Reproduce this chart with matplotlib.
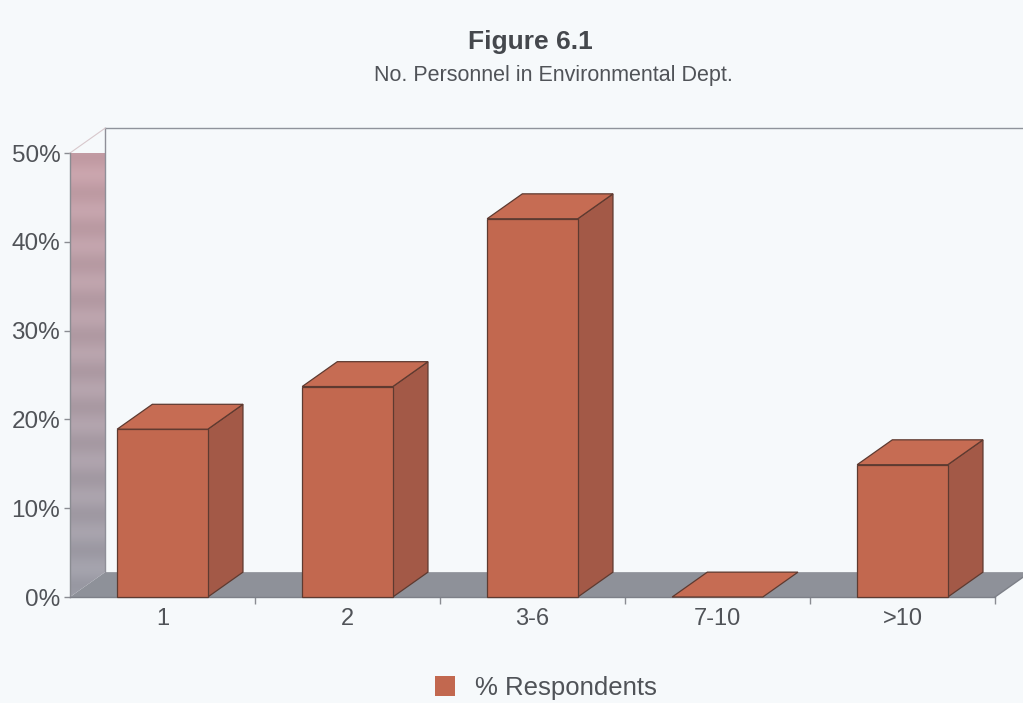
import numpy as np
import matplotlib
matplotlib.use("Agg")
import matplotlib.pyplot as plt
from matplotlib.patches import Polygon, Patch
from matplotlib.colors import to_rgb

# Survey data: number of personnel in the environmental department
categories = ["1", "2", "3-6", "7-10", ">10"]
respondents_pct = [18.9, 23.7, 42.6, 0.0, 14.9]
y_ticks = [0, 10, 20, 30, 40, 50]
y_tick_labels = ["0%", "10%", "20%", "30%", "40%", "50%"]
series_name = "% Respondents"

title = "Figure 6.1"
subtitle = "No. Personnel in Environmental Dept."

# Styling
bg = "#f6f9fb"
text_col = "#505358"
floor_col = "#8e9199"
bar_front = "#c2684f"
bar_side = "#a35947"
bar_top = "#c66c53"
bar_edge = "#5e3a30"
axis_col = "#8a8c92"
font = "Liberation Sans"

W, H = 1023, 703
fig = plt.figure(figsize=(W / 100, H / 100), dpi=100, facecolor=bg)
ax = fig.add_axes([70 / W, (H - 597) / H, 925 / W, 444 / H])
ax.set_facecolor("none")

n = len(categories)
x0, x1 = -0.5, n - 0.5
ymax = 50
dx, dy = 0.19, 2.8      # perspective depth offset (data units)
bw = 0.49               # bar width

# Floor
floor = Polygon([(x0, 0), (x1, 0), (x1 + dx, dy), (x0 + dx, dy)],
                closed=True, facecolor=floor_col, edgecolor="none",
                clip_on=False, zorder=1)
ax.add_patch(floor)

# Left wall with a pink-to-grey banded gradient
nrows = 120
top_c = np.array(to_rgb("#c9a0a8"))
bot_c = np.array(to_rgb("#9d9ea8"))
t = np.linspace(0, 1, nrows)[:, None]
grad = top_c * (1 - t) + bot_c * t
bands = 0.022 * np.sin(np.linspace(0, 26 * np.pi, nrows))[:, None]
grad = np.clip(grad + bands, 0, 1)
img = np.repeat(grad[:, None, :], 4, axis=1)
wall = Polygon([(x0, 0), (x0 + dx, dy), (x0 + dx, ymax + dy), (x0, ymax)],
               closed=True, facecolor="none", edgecolor="none",
               clip_on=False, transform=ax.transData)
ax.add_patch(wall)
im = ax.imshow(img, extent=[x0, x0 + dx, 0, ymax + dy], aspect="auto",
               zorder=1, clip_on=True, interpolation="bilinear")
im.set_clip_path(wall)

# Back wall edges
ax.plot([x0 + dx, x0 + dx], [dy, ymax + dy], color="#8f8f98", lw=1.0,
        clip_on=False, zorder=2)
ax.plot([x0 + dx, x1 + 0.2], [ymax + dy, ymax + dy], color="#8f939b",
        lw=1.0, clip_on=False, zorder=2)
ax.plot([x0, x0 + dx], [ymax, ymax + dy], color="#d8c8cc", lw=0.8,
        clip_on=False, zorder=2)

# Front axis line and floor front edge
ax.plot([x0, x0], [0, ymax], color=axis_col, lw=1.0, clip_on=False, zorder=3)
ax.plot([x0, x1], [0, 0], color="#7d8088", lw=1.0, clip_on=False, zorder=3)
ax.plot([x1, x1 + dx], [0, dy], color="#7d8088", lw=1.0, clip_on=False, zorder=3)

# 3D bars
for i, v in enumerate(respondents_pct):
    l, r = i - bw / 2, i + bw / 2
    front = Polygon([(l, 0), (r, 0), (r, v), (l, v)], closed=True,
                    facecolor=bar_front, edgecolor=bar_edge, lw=0.9,
                    clip_on=False, zorder=5)
    side = Polygon([(r, 0), (r + dx, dy), (r + dx, v + dy), (r, v)], closed=True,
                   facecolor=bar_side, edgecolor=bar_edge, lw=0.9,
                   clip_on=False, zorder=5)
    top = Polygon([(l, v), (r, v), (r + dx, v + dy), (l + dx, v + dy)],
                  closed=True, facecolor=bar_top, edgecolor=bar_edge, lw=0.9,
                  clip_on=False, zorder=6)
    if v > 0:
        ax.add_patch(side)
        ax.add_patch(front)
    ax.add_patch(top)

ax.set_xlim(x0, x1)
ax.set_ylim(0, ymax)
for s in ax.spines.values():
    s.set_visible(False)

ax.set_yticks(y_ticks)
ax.set_yticklabels(y_tick_labels, fontsize=17.5, color=text_col, family=font)
ax.tick_params(axis="y", length=4, width=1, color=axis_col, pad=3)

ax.set_xticks(range(n))
ax.set_xticklabels(categories, fontsize=17, color=text_col, family=font)
ax.tick_params(axis="x", length=0, pad=8)
ax.set_xticks(np.arange(0.5, n - 0.5 + 1e-9, 1.0), minor=True)
ax.tick_params(axis="x", which="minor", length=5, width=1, color=axis_col)

# Titles
fig.text(0.518, 1 - 42 / H, title, ha="center", va="center", fontsize=19,
         fontweight="bold", color="#45484d", family=font)
fig.text(0.541, 1 - 75 / H, subtitle, ha="center", va="center", fontsize=15.5,
         color=text_col, family=font)

# Legend
fig.legend(handles=[Patch(facecolor=bar_front, edgecolor="none")],
           labels=[series_name], loc="center",
           bbox_to_anchor=(546 / W, 1 - 688 / H), frameon=False,
           prop={"family": font, "size": 18.5}, labelcolor=text_col,
           handlelength=0.78, handleheight=0.78, handletextpad=0.75)

fig.savefig("out.png", dpi=100, facecolor=bg)
